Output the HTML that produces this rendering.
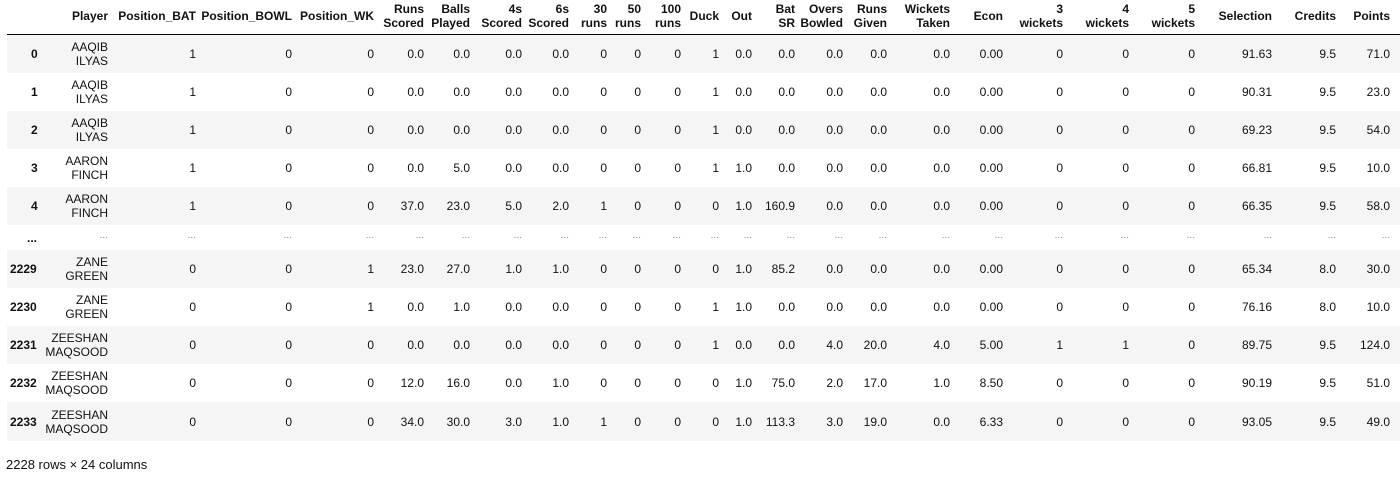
<!DOCTYPE html>
<html><head><meta charset="utf-8"><style>
body{margin:0;background:#fff;width:1400px;height:478px;overflow:hidden;font-family:"Liberation Sans",Arial,sans-serif;color:#111}
#t{position:absolute;left:0;top:0;width:1400px;height:478px}
.c{position:absolute;font-size:12px;line-height:14px;text-align:right;white-space:nowrap}
.h{font-weight:bold}
.band{position:absolute;left:7px;width:1393px}
#foot{position:absolute;left:6px;top:457px;font-size:13px}
</style></head><body>
<div id="t"></div>
<div id="foot">2228 rows × 24 columns</div>
<script>
const headers=["Player","Position_BAT","Position_BOWL","Position_WK","Runs<br>Scored","Balls<br>Played","4s<br>Scored","6s<br>Scored","30<br>runs","50<br>runs","100<br>runs","Duck","Out","Bat<br>SR","Overs<br>Bowled","Runs<br>Given","Wickets<br>Taken","Econ","3<br>wickets","4<br>wickets","5<br>wickets","Selection","Credits","Points"];
const rightEdges=[108,196,292,374,424,470,522,569,607,641,681,719,752,795,843,887,950,1003,1063,1129,1195,1272,1336,1390];
const indexes=["0","1","2","3","4","...","2229","2230","2231","2232","2233"];
const rows=[
["AAQIB<br>ILYAS","1","0","0","0.0","0.0","0.0","0.0","0","0","0","1","0.0","0.0","0.0","0.0","0.0","0.00","0","0","0","91.63","9.5","71.0"],
["AAQIB<br>ILYAS","1","0","0","0.0","0.0","0.0","0.0","0","0","0","1","0.0","0.0","0.0","0.0","0.0","0.00","0","0","0","90.31","9.5","23.0"],
["AAQIB<br>ILYAS","1","0","0","0.0","0.0","0.0","0.0","0","0","0","1","0.0","0.0","0.0","0.0","0.0","0.00","0","0","0","69.23","9.5","54.0"],
["AARON<br>FINCH","1","0","0","0.0","5.0","0.0","0.0","0","0","0","1","1.0","0.0","0.0","0.0","0.0","0.00","0","0","0","66.81","9.5","10.0"],
["AARON<br>FINCH","1","0","0","37.0","23.0","5.0","2.0","1","0","0","0","1.0","160.9","0.0","0.0","0.0","0.00","0","0","0","66.35","9.5","58.0"],
null,
["ZANE<br>GREEN","0","0","1","23.0","27.0","1.0","1.0","0","0","0","0","1.0","85.2","0.0","0.0","0.0","0.00","0","0","0","65.34","8.0","30.0"],
["ZANE<br>GREEN","0","0","1","0.0","1.0","0.0","0.0","0","0","0","1","1.0","0.0","0.0","0.0","0.0","0.00","0","0","0","76.16","8.0","10.0"],
["ZEESHAN<br>MAQSOOD","0","0","0","0.0","0.0","0.0","0.0","0","0","0","1","0.0","0.0","4.0","20.0","4.0","5.00","1","1","0","89.75","9.5","124.0"],
["ZEESHAN<br>MAQSOOD","0","0","0","12.0","16.0","0.0","1.0","0","0","0","0","1.0","75.0","2.0","17.0","1.0","8.50","0","0","0","90.19","9.5","51.0"],
["ZEESHAN<br>MAQSOOD","0","0","0","34.0","30.0","3.0","1.0","1","0","0","0","1.0","113.3","3.0","19.0","0.0","6.33","0","0","0","93.05","9.5","49.0"]
];
const t=document.getElementById('t');
function cell(html,right,top,cls,name){
  const d=document.createElement('div');
  d.className='c '+(cls||'');
  d.innerHTML=html;
  d.style.right=(1400-right)+'px';
  d.style.top=top+'px';
  
  
  t.appendChild(d);return d;
}
headers.forEach((h,i)=>{
  const two=h.includes('<br>');
  cell(h,rightEdges[i],two?2:9,'h','column-header');
});
const hl=document.createElement('div');
hl.style.cssText='position:absolute;left:7px;width:1393px;top:34px;height:1px;background:#000';


t.appendChild(hl);
const tops=[35,73,111,149,187,225,250,288,326,364,402];
const heights=[38,38,38,38,38,25,38,38,38,38,39];
indexes.forEach((ix,r)=>{
  const top=tops[r],h=heights[r];
  if(r%2===0&&rows[r]){
    const b=document.createElement('div');
    b.className='band';b.style.top=top+'px';b.style.height=h+'px';b.style.background='#f5f5f5';
    
    
    t.appendChild(b);
  }
  const mid=top+h/2;
  const ic=cell(ix,0,mid-7,'h','row-index');
  ic.style.right='';ic.style.left=(ix.length>=4?10:ix==='...'?27:31)+'px';ic.style.textAlign='left';
  if(rows[r]){
    rows[r].forEach((v,i)=>{
      const two=v.includes('<br>');
      cell(v,rightEdges[i],two?mid-14:mid-7,'','table-cell');
    });
  }else{
    rightEdges.forEach(re=>{const c=cell('...',re,mid-9,'','ellipsis-cell');c.style.color='#888';c.style.fontSize='10px';});
  }
});
</script>
</body></html>
